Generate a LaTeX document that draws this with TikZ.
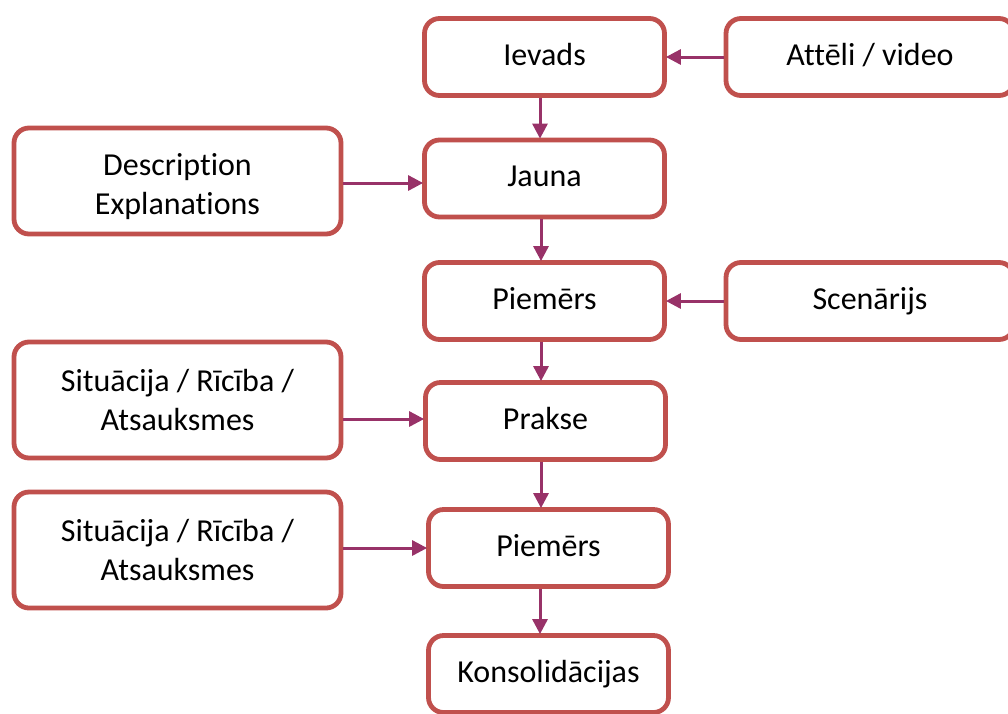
\documentclass[tikz,border=0pt]{standalone}
\usepackage{fontspec}
\setmainfont[Ligatures=NoCommon]{Carlito}
\usetikzlibrary{arrows.meta}
\definecolor{boxred}{RGB}{192,80,77}
\definecolor{linkpurple}{RGB}{152,50,104}
\begin{document}
\begin{tikzpicture}[x=1pt,y=-1pt,
  box/.style={draw=boxred, line width=4.8pt, rounded corners=15pt, fill=white,
    inner sep=0pt, align=center, font=\fontsize{32}{39}\selectfont},
  midbox/.style={box, minimum width=240pt, minimum height=77pt,
    text height=16pt, text depth=0pt},
  sidebox/.style={midbox, minimum width=288pt},
  leftbox/.style={box, minimum width=327pt, minimum height=110pt},
  link/.style={draw=linkpurple, line width=3pt,
    -{Triangle[length=15pt,width=15pt]}, shorten >=-1pt}
]
\useasboundingbox (0,0) rectangle (1008,713);

% central column
\node[midbox] (ievads)  at (544.5,57)   {Ievads};
\node[midbox] (jauna)   at (544.5,178.5) {Jauna};
\node[midbox] (piem1)   at (544.5,301)  {Piemērs};
\node[midbox] (prakse)  at (545.5,421)  {Prakse};
\node[midbox] (piem2)   at (548.5,548)  {Piemērs};
\node[midbox] (konsol)  at (548.5,674)  {Konsolidācijas};

% right column
\node[sidebox] (atteli) at (870,57)  {Attēli / video};
\node[sidebox] (scen)   at (870,301) {Scenārijs};

% left column
\node[leftbox, minimum height=106pt] (descr) at (177.5,181)
  {\rule{0pt}{34pt}Description\\Explanations};
\node[leftbox, minimum height=116pt] (sit1)  at (177.5,400) {Situācija / Rīcība /\\Atsauksmes};
\node[leftbox, minimum height=116pt] (sit2)  at (177.5,550) {Situācija / Rīcība /\\Atsauksmes};

% vertical flow
\draw[link] (ievads.south -| 540,0) -- (jauna.north -| 540,0);
\draw[link] (jauna.south -| 541,0)  -- (piem1.north -| 541,0);
\draw[link] (piem1.south -| 541,0)  -- (prakse.north -| 541,0);
\draw[link] (prakse.south -| 541,0) -- (piem2.north -| 541,0);
\draw[link] (piem2.south -| 540,0)  -- (konsol.north -| 540,0);

% side inputs
\draw[link] (atteli.west) -- (ievads.east);
\draw[link] (scen.west)   -- (piem1.east);
\draw[link] (descr.east |- 0,183) -- (jauna.west |- 0,183);
\draw[link] (sit1.east |- 0,419)  -- (prakse.west |- 0,419);
\draw[link] (sit2.east |- 0,548)  -- (piem2.west |- 0,548);
\end{tikzpicture}
\end{document}
